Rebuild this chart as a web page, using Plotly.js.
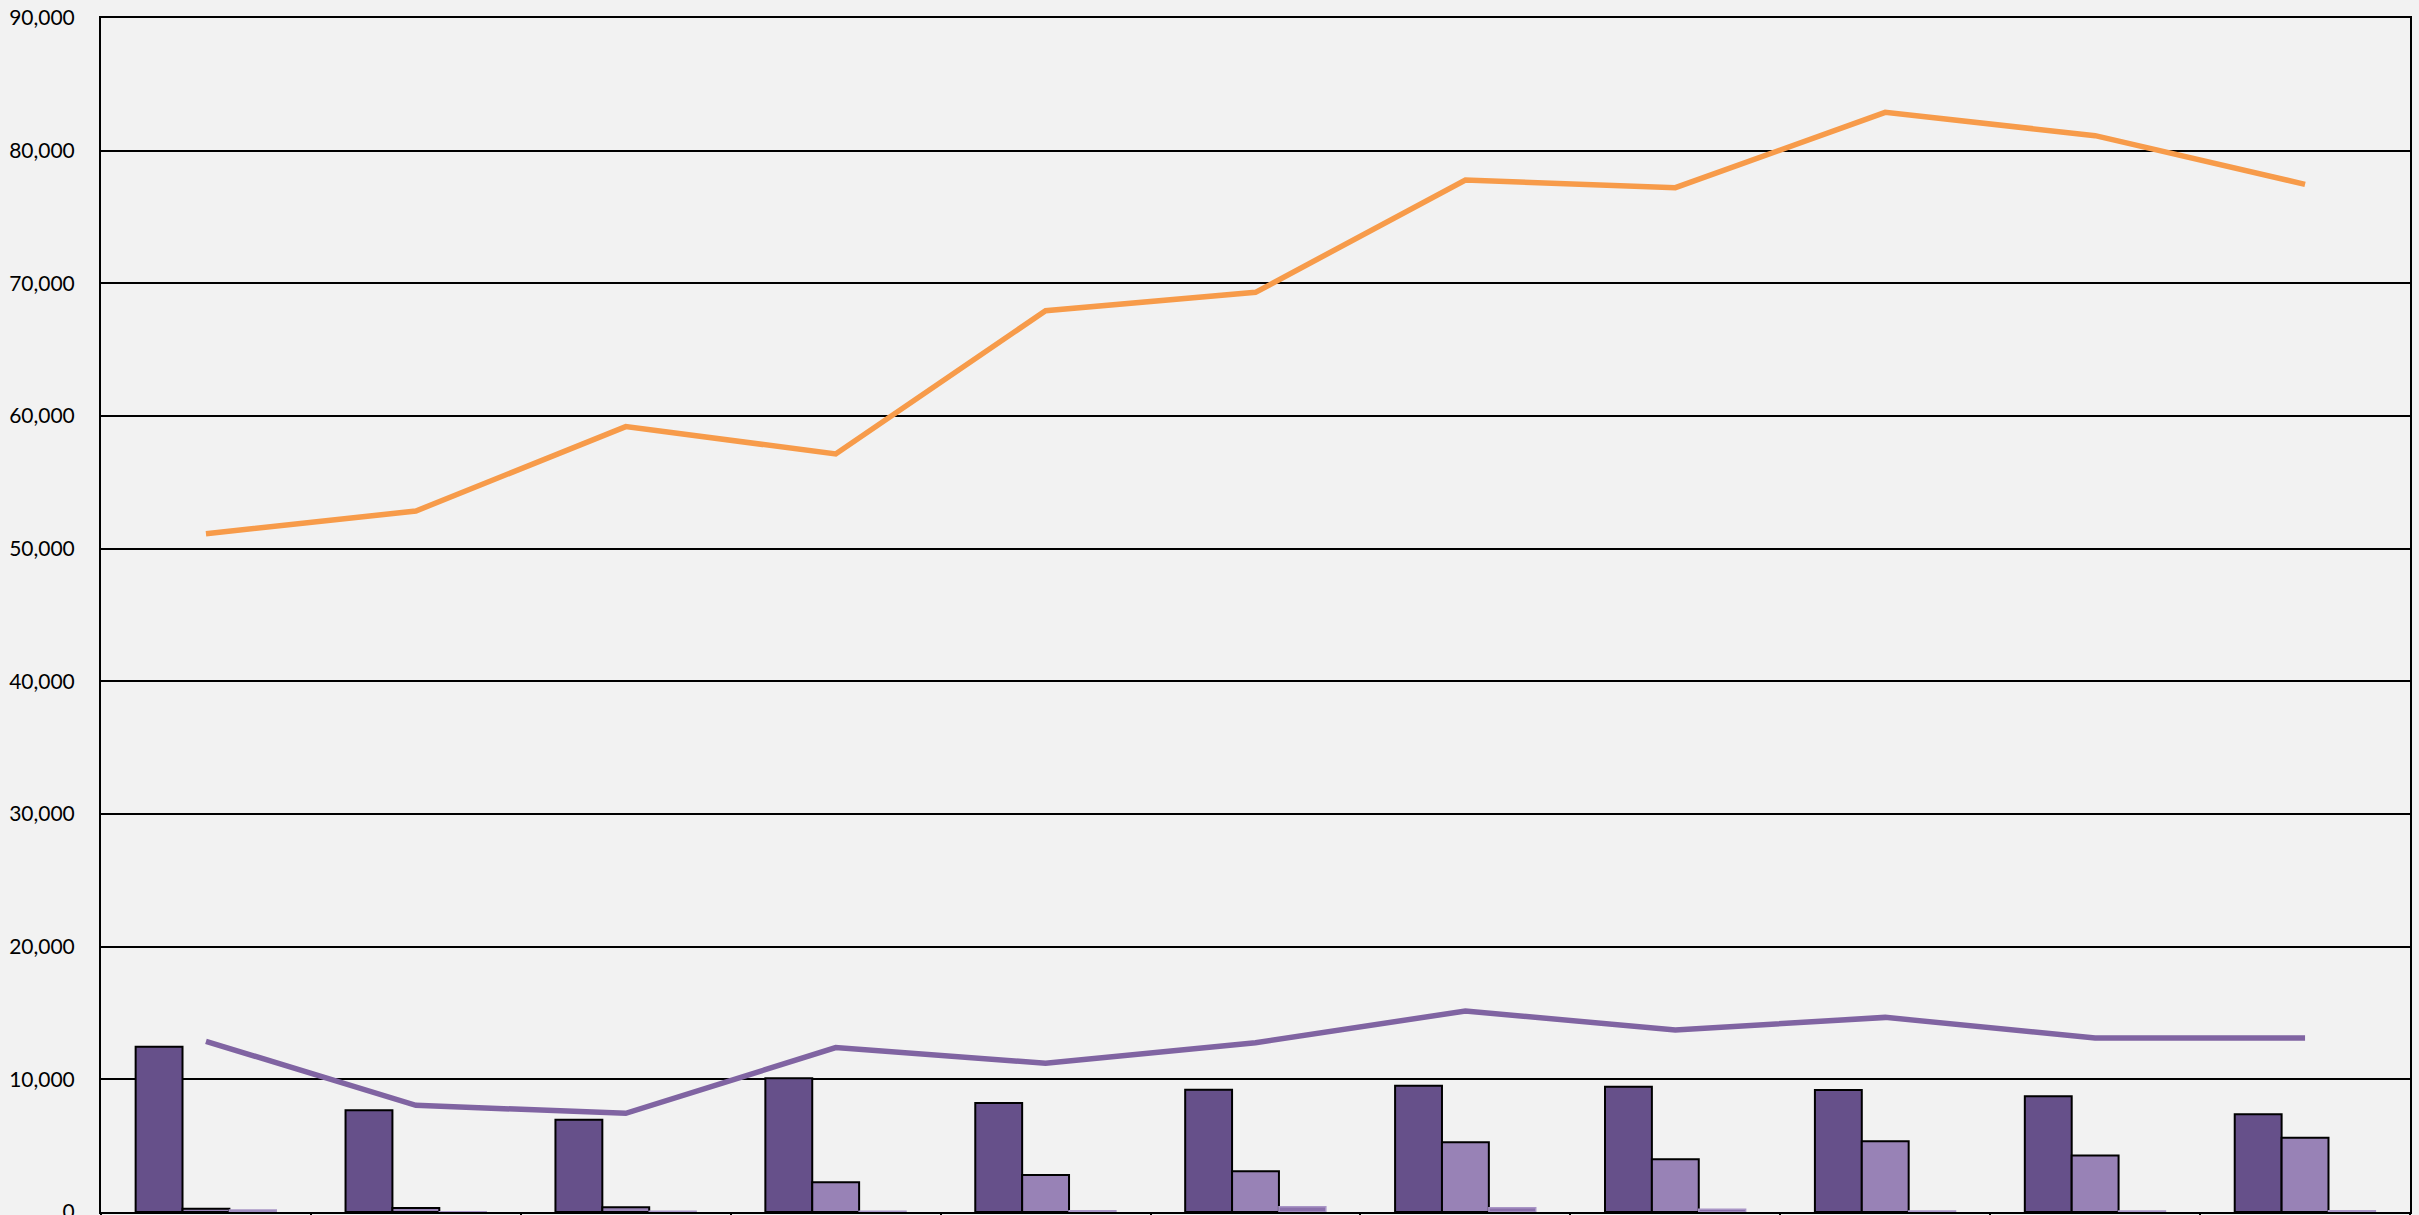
<!DOCTYPE html>
<html>
<head>
<meta charset="utf-8">
<script src="https://cdn.plot.ly/plotly-3.0.1.min.js"></script>
<style>
  html, body { margin: 0; padding: 0; background: #f2f2f2; }
  #chart { width: 2419px; height: 1215px; }
</style>
</head>
<body>
<div id="chart"></div>
<script>
// Categories (labels are not visible in the reference; they fall below the cropped edge)
const categories = ['1', '2', '3', '4', '5', '6', '7', '8', '9', '10', '11'];

// Bar series
const barDark   = [12460, 7670, 6960, 10080, 8220, 9220, 9520, 9450, 9200, 8720, 7360];
const barMedium = [250, 300, 350, 2240, 2790, 3070, 5250, 3970, 5330, 4250, 5600];
const barLight  = [160, 20, 50, 50, 100, 400, 320, 200, 80, 80, 100];

// Line series
const lineOrange = [51130, 52840, 59200, 57140, 67940, 69320, 77790, 77210, 82890, 81130, 77460];
const linePurple = [12870, 8040, 7440, 12390, 11210, 12760, 15150, 13720, 14670, 13120, 13120];

// Y tick values
const yTicks = [0, 10000, 20000, 30000, 40000, 50000, 60000, 70000, 80000, 90000];
const yTickText = ['0', '10,000', '20,000', '30,000', '40,000', '50,000', '60,000', '70,000', '80,000', '90,000'];

const traces = [
  { type: 'bar', x: categories, y: barDark, name: 'A',
    marker: { color: '#66508a', line: { color: '#000000', width: 2 } } },
  { type: 'bar', x: categories, y: barMedium, name: 'B',
    marker: { color: '#9882b6', line: { color: '#000000', width: 2 } } },
  { type: 'bar', x: categories, y: barLight, name: 'C',
    marker: { color: '#8a70ab', line: { color: '#a996c6', width: 1.5 } } },
  { type: 'scatter', mode: 'lines', x: categories, y: lineOrange, name: 'D',
    line: { color: '#f79b4a', width: 5.5 } },
  { type: 'scatter', mode: 'lines', x: categories, y: linePurple, name: 'E',
    line: { color: '#8064a2', width: 5.5 } }
];

const layout = {
  width: 2419, height: 1215,
  margin: { l: 101, r: 9, t: 18, b: 3, pad: 0 },
  paper_bgcolor: '#f2f2f2',
  plot_bgcolor: '#f2f2f2',
  showlegend: false,
  barmode: 'group',
  bargap: 0.33,
  bargroupgap: 0,
  font: { family: 'Lato, "Open Sans", sans-serif', size: 21, color: '#000000' },
  xaxis: {
    type: 'category',
    showticklabels: false,
    ticks: 'outside',
    tickson: 'boundaries',
    ticklen: 6,
    tickwidth: 2,
    tickcolor: '#000000',
    showgrid: false,
    showline: true,
    linecolor: '#000000',
    linewidth: 2,
    mirror: true,
    zeroline: false,
    fixedrange: true
  },
  yaxis: {
    range: [0, 90000],
    tickvals: yTicks,
    ticktext: yTickText,
    ticks: '',
    ticklabelstandoff: 20,
    ticklabeloverflow: 'allow',
    showgrid: true,
    gridcolor: '#000000',
    gridwidth: 2,
    showline: true,
    linecolor: '#000000',
    linewidth: 2,
    mirror: true,
    zeroline: false,
    tickfont: { family: 'Lato, "Open Sans", sans-serif', size: 21, color: '#000000' }
  }
};

Plotly.newPlot('chart', traces, layout, { displayModeBar: false, staticPlot: true });
</script>
</body>
</html>
